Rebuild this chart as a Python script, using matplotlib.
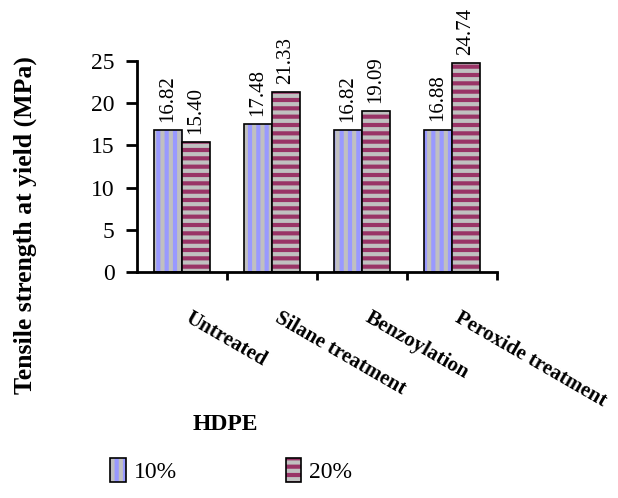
import numpy as np
import matplotlib
matplotlib.use("Agg")
import matplotlib.pyplot as plt
from matplotlib.patches import Patch
from matplotlib.legend_handler import HandlerTuple

# -------- Data --------
categories = ["Untreated", "Silane treatment", "Benzoylation", "Peroxide treatment"]
series_names = ["10%", "20%"]
vals_10 = [16.82, 17.48, 16.82, 16.88]
vals_20 = [15.40, 21.33, 19.09, 24.74]
yticks = [0, 5, 10, 15, 20, 25]

# -------- Style --------
plt.rcParams["font.family"] = ["Liberation Serif", "DejaVu Serif"]
plt.rcParams["hatch.linewidth"] = 3.0
stripe = "#C0C0C0"
colors = ["#9999FF", "#993366"]
hatches = ["||", "--"]

fig = plt.figure(figsize=(6.18, 4.98), dpi=100)
ax = fig.add_axes([0.2217, 0.4538, 0.5825, 0.4237])

x = np.arange(len(categories))
w = 0.31
offsets = [-w / 2, w / 2]
for vals, off, col, h in zip([vals_10, vals_20], offsets, colors, hatches):
    # striped fill, then black outline on top
    ax.bar(x + off, vals, w, color=col, hatch=h, edgecolor=stripe, linewidth=0)
    bars = ax.bar(x + off, vals, w, fill=False, edgecolor="black", linewidth=1.2)
    for rect, v in zip(bars, vals):
        ax.annotate(f"{v:.2f}", (rect.get_x() + rect.get_width() / 2, rect.get_height()),
                    xytext=(0, 6), textcoords="offset points", rotation=90,
                    ha="center", va="bottom", fontsize=15)

ax.set_xlim(-0.5, len(categories) - 0.5)
ax.set_ylim(0, 25)
ax.set_yticks(yticks)
ax.tick_params(axis="y", labelsize=17, length=8, width=2, pad=8)

# ticks at category boundaries
ax.set_xticks(np.arange(len(categories)) + 0.5)
ax.set_xticklabels([])
ax.tick_params(axis="x", length=6, width=2)

for i, name in enumerate(categories):
    ax.text(i + 0.11, -0.17, name, transform=ax.get_xaxis_transform(),
            rotation=-30, rotation_mode="anchor", ha="left", va="top",
            fontsize=15, fontweight="bold")

for s in ["top", "right"]:
    ax.spines[s].set_visible(False)
for s in ["left", "bottom"]:
    ax.spines[s].set_linewidth(2)

fig.text(25 / 618, 1 - 225 / 498, "Tensile strength at yield (MPa)", rotation=90,
         ha="center", va="center", fontsize=18.5, fontweight="bold")
fig.text(225 / 618, 1 - 425 / 498, "HDPE", ha="center", va="center",
         fontsize=17, fontweight="bold")

handles = [(Patch(facecolor=c, hatch=h, edgecolor=stripe, linewidth=0),
            Patch(fill=False, edgecolor="black", linewidth=1.2))
           for c, h in zip(colors, hatches)]
fig.legend(handles, series_names, loc="lower left", bbox_to_anchor=(89 / 618, -0.012),
           ncol=2, frameon=False, fontsize=17, handlelength=0.65, handleheight=1.2,
           handletextpad=0.35, columnspacing=4.6,
           handler_map={tuple: HandlerTuple(ndivide=1, pad=0)})

fig.savefig("out.png", dpi=100)
